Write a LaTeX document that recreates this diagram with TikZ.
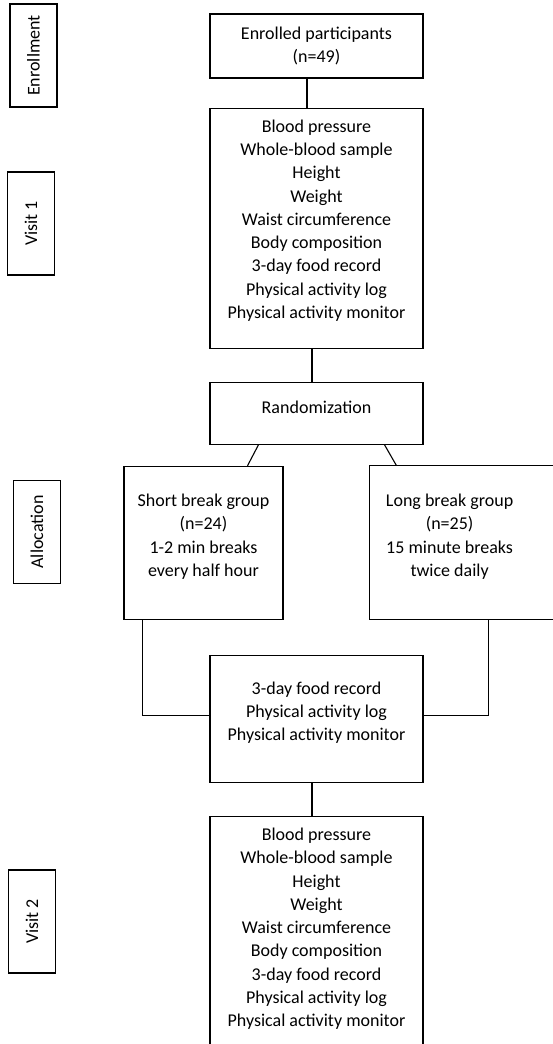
\documentclass[tikz,border=0pt]{standalone}
\usepackage{fontspec}
\setmainfont{Carlito}
\usetikzlibrary{positioning}

\begin{document}
\begin{tikzpicture}[
    node distance=30pt,
    box/.style={draw, line width=1.1pt, align=center, font=\fontsize{18}{23.3}\selectfont, inner sep=4pt, minimum width=213pt},
    stage/.style={box, rotate=90, minimum width=103pt, minimum height=47pt},
    group/.style={box, minimum width=159pt, minimum height=153pt},
    textup/.style={execute at end node={\rule[-#1]{0pt}{0pt}}},
    link/.style={line width=1.1pt}
]

\useasboundingbox (0,0) rectangle (552pt,-1044pt);

% Main column
\node[box, minimum height=64pt] (enrolled) at (316.5pt,-46pt) {Enrolled participants\\(n=49)};
\node[box, minimum height=240pt, textup=18pt, below=29pt of enrolled] (visit1) {Blood pressure\\Whole-blood sample\\Height\\Weight\\Waist circumference\\Body composition\\3-day food record\\Physical activity log\\Physical activity monitor};
\node[box, minimum height=62pt, textup=12pt, below=33pt of visit1] (random) {Randomization};

% Groups
\node[group, textup=15pt, below=21pt of random, xshift=-113pt] (short) {Short break group\\(n=24)\\1-2 min breaks\\every half hour};
\node[group, textup=15pt, draw=none, right=86pt of short] (long) {Long break group\\(n=25)\\15 minute breaks\\twice daily};
\draw[link] (long.north west) rectangle ([xshift=40pt]long.south east);

% Follow-up
\node[box, minimum height=127pt, textup=15pt, below=210pt of random] (followup) {3-day food record\\Physical activity log\\Physical activity monitor};
\node[box, minimum height=231pt, textup=9pt, below=33pt of followup] (visit2) {Blood pressure\\Whole-blood sample\\Height\\Weight\\Waist circumference\\Body composition\\3-day food record\\Physical activity log\\Physical activity monitor};

% Stage labels
\node[stage] (enrollment) at (33.5pt,-55.5pt) {Enrollment};
\node[stage] (stagevisit1) at (31pt,-223.5pt) {Visit 1};
\node[stage] (allocation) at (37pt,-532pt) {Allocation};
\node[stage] (stagevisit2) at (32pt,-921.5pt) {Visit 2};

% Lines
\draw[link] ([xshift=-9.5pt]enrolled.south) -- ([xshift=-9.5pt]visit1.north);
\draw[link] ([xshift=-4.5pt]visit1.south) -- ([xshift=-4.5pt]random.north);
\draw[link] ([xshift=-58pt]random.south) -- ([xshift=44pt]short.north);
\draw[link] ([xshift=68pt]random.south) -- ([xshift=27pt]long.north west);
\draw[link] ([xshift=19pt]short.south west) |- ([yshift=3.5pt]followup.west);
\draw[link] ([xshift=119pt]long.south west) |- ([yshift=3.5pt]followup.east);
\draw[link] ([xshift=-4.5pt]followup.south) -- ([xshift=-4.5pt]visit2.north);

\end{tikzpicture}
\end{document}
